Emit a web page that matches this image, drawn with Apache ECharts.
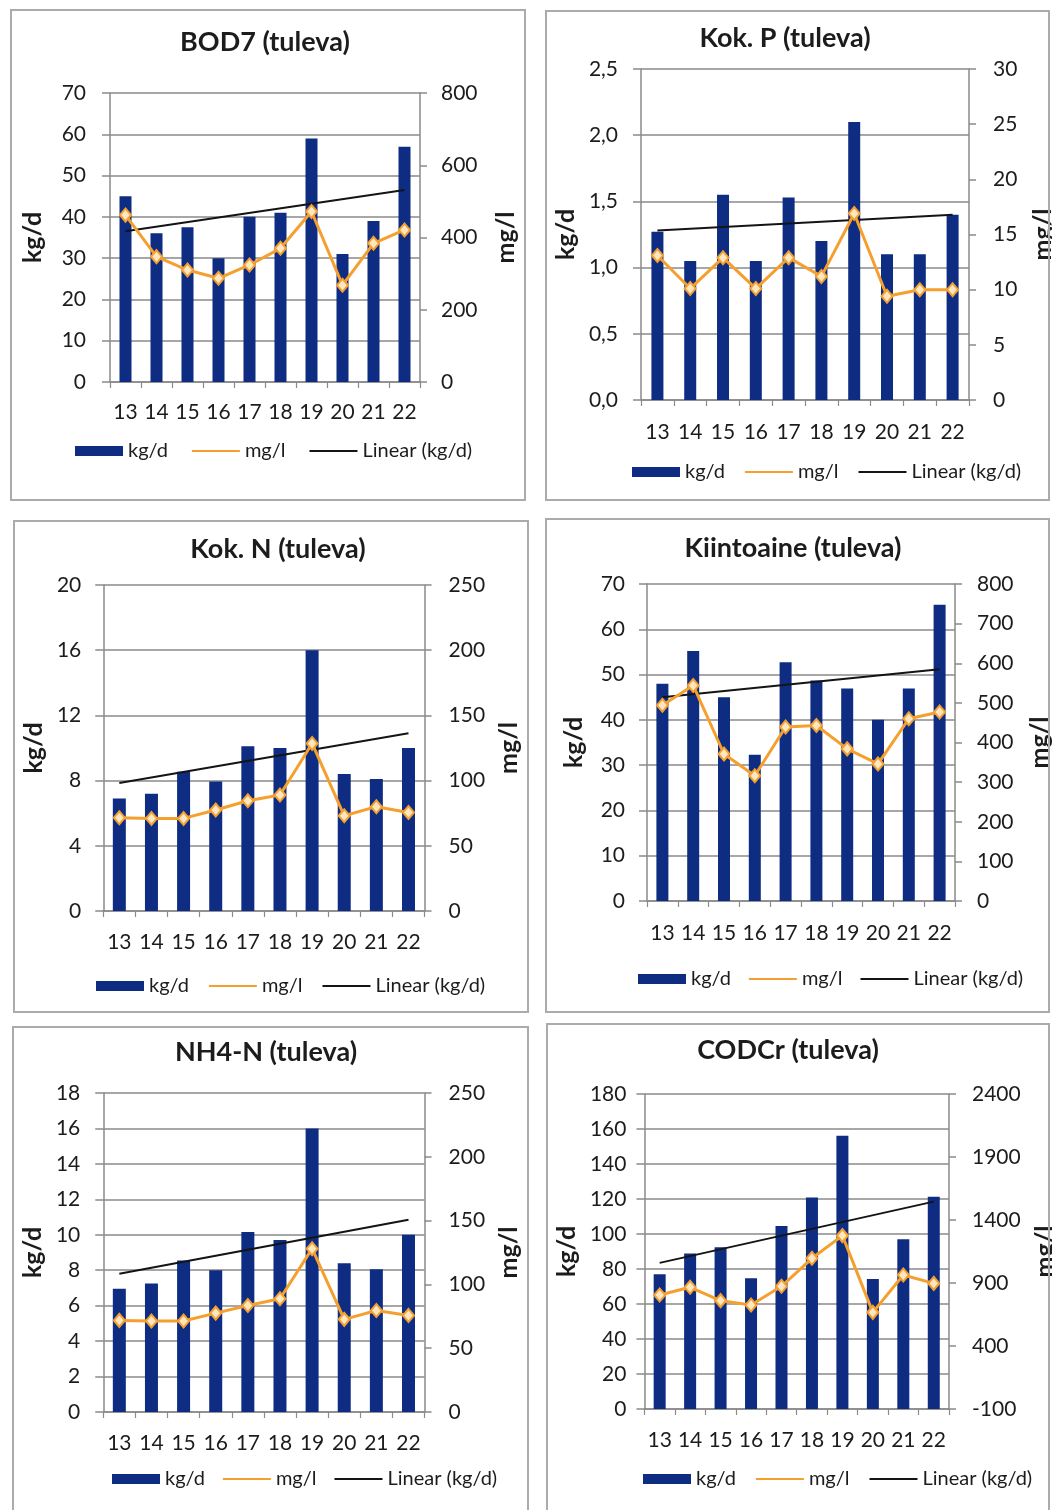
<!DOCTYPE html>
<html>
<head>
<meta charset="utf-8">
<script src="https://cdn.jsdelivr.net/npm/echarts@6/dist/echarts.min.js"></script>
<style>
  html, body { margin: 0; padding: 0; background: #fff; }
  #page { position: relative; width: 1052px; height: 1510px; overflow: hidden; background: #fff; }
  .panel { position: absolute; background: #fff; }
  .frame { position: absolute; box-sizing: border-box; border: 2px solid #ababab; pointer-events: none; }
</style>
</head>
<body>
<div id="page"></div>
<script>
// Shared x categories (years)
const years = ['13', '14', '15', '16', '17', '18', '19', '20', '21', '22'];

// BOD7 (tuleva)
const bod7Kg = [45, 36, 37.5, 30, 40, 41, 59, 31, 39, 57];
const bod7Mg = [462, 347, 310, 287, 324, 370, 472, 268, 384, 421];
const bod7Trend = [36.5, 46.5];
const bod7LeftTicks = [0, 10, 20, 30, 40, 50, 60, 70];
const bod7RightTicks = [0, 200, 400, 600, 800];

// Kok. P (tuleva)
const kokPKg = [1.27, 1.05, 1.55, 1.05, 1.53, 1.2, 2.1, 1.1, 1.1, 1.4];
const kokPMg = [13.1, 10.1, 12.9, 10.1, 12.9, 11.2, 16.9, 9.4, 10.0, 10.0];
const kokPTrend = [1.28, 1.40];
const kokPLeftTicks = [0, 0.5, 1, 1.5, 2, 2.5];
const kokPRightTicks = [0, 5, 10, 15, 20, 25, 30];

// Kok. N (tuleva)
const kokNKg = [6.9, 7.2, 8.55, 7.95, 10.1, 10.0, 16.0, 8.4, 8.1, 10.0];
const kokNMg = [71.5, 71, 71, 77.5, 84.5, 89, 128.5, 73, 80, 75.5];
const kokNTrend = [7.85, 10.9];
const kokNLeftTicks = [0, 4, 8, 12, 16, 20];
const kokNRightTicks = [0, 50, 100, 150, 200, 250];

// Kiintoaine (tuleva)
const kiintKg = [48, 55.2, 45, 32.3, 52.7, 48.7, 46.9, 40, 46.9, 65.4];
const kiintMg = [494, 544, 371, 316, 439, 443, 384, 346, 460, 477];
const kiintTrend = [45, 51.2];
const kiintLeftTicks = [0, 10, 20, 30, 40, 50, 60, 70];
const kiintRightTicks = [0, 100, 200, 300, 400, 500, 600, 700, 800];

// NH4-N (tuleva)
const nh4Kg = [6.95, 7.25, 8.55, 8.0, 10.15, 9.7, 16.0, 8.4, 8.05, 10.0];
const nh4Mg = [71.8, 71.3, 71.3, 77.5, 83.5, 88.8, 128, 72.6, 79.6, 75.7];
const nh4Trend = [7.8, 10.85];
const nh4LeftTicks = [0, 2, 4, 6, 8, 10, 12, 14, 16, 18];
const nh4RightTicks = [0, 50, 100, 150, 200, 250];

// CODCr (tuleva)
const codKg = [77, 88.8, 92.4, 74.7, 104.6, 120.8, 156.2, 74.3, 97, 121.3];
const codMg = [805, 866, 760, 725, 874, 1096, 1276, 667, 963, 897];
const codTrend = [83.5, 118.5];
const codLeftTicks = [0, 20, 40, 60, 80, 100, 120, 140, 160, 180];
const codRightTicks = [-100, 400, 900, 1400, 1900, 2400];

const legendNames = ['kg/d', 'mg/l', 'Linear (kg/d)'];

const FONT = 'Lato, "Open Sans", sans-serif';
const GRID_COLOR = '#8a8a8a';
const TEXT_COLOR = '#1c1c1c';
const BAR_COLOR = '#0e2d82';
const LINE_COLOR = '#f5a02e';

const commaFmt = v => v.toFixed(1).replace('.', ',');
const plainFmt = v => String(v);

const panels = [
  {
    title: 'BOD7 (tuleva)', box: [10, 9, 516, 492], titlePos: [255, 20],
    grid: [100, 84, 314, 289], barWidth: 12,
    kg: bod7Kg, mg: bod7Mg, trend: bod7Trend, left: bod7LeftTicks, right: bod7RightTicks,
    leftMargin: 24, rightMargin: 21, xMargin: 20, leftGap: 65, rightGap: 73,
    legend: [65, 432], legendGap: 23
  },
  {
    title: 'Kok. P (tuleva)', box: [545, 10, 520, 491], titlePos: [240, 15],
    grid: [92, 59, 332, 331], barWidth: 12,
    kg: kokPKg, mg: kokPMg, trend: kokPTrend, left: kokPLeftTicks, right: kokPRightTicks,
    leftFmt: commaFmt,
    leftMargin: 23, rightMargin: 24, xMargin: 22, leftGap: 57, rightGap: 61,
    legend: [87, 452], legendGap: 19
  },
  {
    title: 'Kok. N (tuleva)', box: [13, 520, 516, 493], titlePos: [265, 16],
    grid: [84, 65, 346, 326], barWidth: 13,
    kg: kokNKg, mg: kokNMg, trend: kokNTrend, left: kokNLeftTicks, right: kokNRightTicks,
    leftMargin: 22, rightMargin: 24, xMargin: 21, leftGap: 46, rightGap: 56,
    legend: [83, 456], legendGap: 19
  },
  {
    title: 'Kiintoaine (tuleva)', box: [545, 518, 520, 495], titlePos: [248, 17],
    grid: [102, 66, 308, 317], barWidth: 12,
    kg: kiintKg, mg: kiintMg, trend: kiintTrend, left: kiintLeftTicks, right: kiintRightTicks,
    leftMargin: 22, rightMargin: 22, xMargin: 22, leftGap: 61, rightGap: 72,
    legend: [93, 451], legendGap: 17
  },
  {
    title: 'NH4-N (tuleva)', box: [12, 1026, 517, 500], titlePos: [254, 13],
    grid: [89, 67, 337, 319], barWidth: 13,
    kg: nh4Kg, mg: nh4Mg, trend: nh4Trend, left: nh4LeftTicks, right: nh4RightTicks,
    leftMargin: 23, rightMargin: 24, xMargin: 21, leftGap: 48, rightGap: 59,
    legend: [100, 443], legendGap: 17
  },
  {
    title: 'CODCr (tuleva)', box: [546, 1023, 520, 500], titlePos: [242, 14],
    grid: [97, 71, 306, 315], barWidth: 12,
    kg: codKg, mg: codMg, trend: codTrend, left: codLeftTicks, right: codRightTicks,
    leftMargin: 18, rightMargin: 23, xMargin: 21, leftGap: 58, rightGap: 83,
    legend: [97, 446], legendGap: 19
  }
];

const page = document.getElementById('page');

panels.forEach(p => {
  const [bx, by, bw, bh] = p.box;
  const el = document.createElement('div');
  el.className = 'panel';
  el.style.left = bx + 'px';
  el.style.top = by + 'px';
  el.style.width = bw + 'px';
  el.style.height = bh + 'px';
  page.appendChild(el);

  const frame = document.createElement('div');
  frame.className = 'frame';
  frame.style.left = bx + 'px';
  frame.style.top = by + 'px';
  frame.style.width = (bx + bw > 1048 ? 1048 - bx + 2 : bw) + 'px';
  frame.style.height = bh + 'px';
  page.appendChild(frame);

  const chart = echarts.init(el, null, { renderer: 'canvas' });
  const leftMin = p.left[0], leftMax = p.left[p.left.length - 1];
  const rightMin = p.right[0], rightMax = p.right[p.right.length - 1];

  chart.setOption({
    animation: false,
    backgroundColor: '#fff',
    textStyle: { fontFamily: FONT },
    title: {
      text: p.title,
      left: p.titlePos[0],
      top: p.titlePos[1],
      textAlign: 'center',
      padding: 0,
      textStyle: { fontFamily: FONT, fontSize: 27, fontWeight: 'bold', color: TEXT_COLOR }
    },
    grid: { left: p.grid[0], top: p.grid[1], width: p.grid[2], height: p.grid[3], containLabel: false },
    legend: {
      left: p.legend[0],
      top: p.legend[1],
      padding: 0,
      itemWidth: 48,
      itemHeight: 10,
      itemGap: p.legendGap,
      textStyle: { fontFamily: FONT, fontSize: 20, color: TEXT_COLOR },
      data: [
        { name: legendNames[0], icon: 'rect' },
        { name: legendNames[1], itemStyle: { color: 'transparent', borderColor: 'transparent', borderWidth: 0 }, lineStyle: { width: 2 } },
        { name: legendNames[2], itemStyle: { color: 'transparent', borderColor: 'transparent', borderWidth: 0 }, lineStyle: { width: 2 } }
      ]
    },
    xAxis: {
      type: 'category',
      data: years,
      boundaryGap: true,
      axisLine: { onZero: false, lineStyle: { color: GRID_COLOR, width: 1.5 } },
      axisTick: { show: true, length: 6, lineStyle: { color: GRID_COLOR, width: 1.2 } },
      axisLabel: { interval: 0, margin: p.xMargin, fontSize: 21, color: TEXT_COLOR, fontFamily: FONT },
      splitLine: { show: false }
    },
    yAxis: [
      {
        type: 'value',
        position: 'left',
        min: leftMin,
        max: leftMax,
        interval: p.left[1] - p.left[0],
        name: legendNames[0],
        nameLocation: 'middle',
        nameRotate: 90,
        nameGap: p.leftGap,
        nameTextStyle: { fontFamily: FONT, fontSize: 25, fontWeight: 'bold', color: TEXT_COLOR },
        axisLine: { show: true, lineStyle: { color: GRID_COLOR, width: 1.5 } },
        axisTick: { show: true, length: 8, lineStyle: { color: GRID_COLOR, width: 1.5 } },
        axisLabel: {
          margin: p.leftMargin, fontSize: 21, color: TEXT_COLOR, fontFamily: FONT,
          formatter: p.leftFmt || plainFmt
        },
        splitLine: { show: true, lineStyle: { color: GRID_COLOR, width: 1.5 } }
      },
      {
        type: 'value',
        position: 'right',
        min: rightMin,
        max: rightMax,
        name: legendNames[1],
        nameLocation: 'middle',
        nameRotate: 90,
        nameGap: p.rightGap,
        nameTextStyle: { fontFamily: FONT, fontSize: 25, fontWeight: 'bold', color: TEXT_COLOR },
        axisLine: { show: true, lineStyle: { color: GRID_COLOR, width: 1.5 } },
        axisTick: { show: true, length: 7, customValues: p.right, lineStyle: { color: GRID_COLOR, width: 1.5 } },
        axisLabel: {
          margin: p.rightMargin, fontSize: 21, color: TEXT_COLOR, fontFamily: FONT,
          customValues: p.right, formatter: plainFmt
        },
        splitLine: { show: false }
      }
    ],
    series: [
      {
        name: legendNames[0],
        type: 'bar',
        yAxisIndex: 0,
        barWidth: p.barWidth,
        itemStyle: { color: BAR_COLOR },
        data: p.kg,
        z: 2
      },
      {
        name: legendNames[2],
        type: 'line',
        yAxisIndex: 0,
        symbol: 'none',
        lineStyle: { color: '#141414', width: 2 },
        itemStyle: { color: '#141414' },
        data: [[years[0], p.trend[0]], [years[years.length - 1], p.trend[1]]],
        z: 3
      },
      {
        name: legendNames[1],
        type: 'line',
        yAxisIndex: 1,
        symbol: 'diamond',
        symbolSize: [11, 13],
        lineStyle: { color: LINE_COLOR, width: 3 },
        itemStyle: { color: '#fde6c0', borderColor: LINE_COLOR, borderWidth: 2 },
        data: p.mg,
        z: 4
      }
    ]
  });
});
</script>
</body>
</html>
